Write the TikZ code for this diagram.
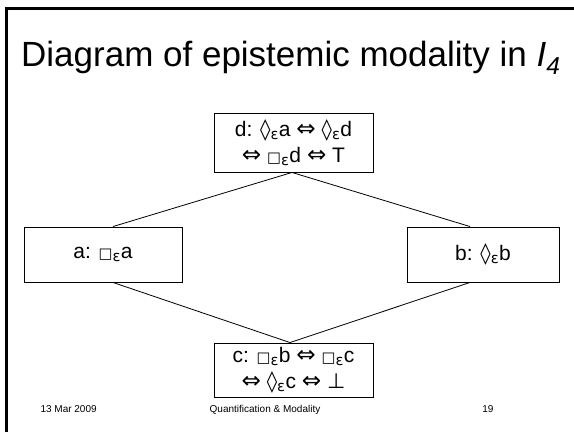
\documentclass[tikz,border=0pt]{standalone}
\usepackage{fontspec}
\setmainfont{Liberation Sans}
\newfontfamily\symfont{DejaVu Sans}
\newcommand{\mydia}{{\symfont\char"25CA}}
\newcommand{\mybx}{{\symfont\scalebox{0.7}{\char"25A1}}}
\newcommand{\myiff}{{\symfont\scalebox{1.1}{\char"21D4}}}
\newcommand{\mybot}{{\symfont\char"22A5}}
\newcommand{\myeps}{\textsubscript{\symfont ε}}
\begin{document}
\begin{tikzpicture}[x=1pt,y=-1pt,
  lbox/.style={draw=black,line width=0.9pt,inner sep=0pt,align=center,font=\fontsize{21}{26}\selectfont},
  conn/.style={draw=black,line width=0.8pt},
  foot/.style={font=\fontsize{10}{12}\selectfont,anchor=base}]
\useasboundingbox (0,0) rectangle (574,432);
\fill[white] (0,0) rectangle (574,432);
\draw[line width=3pt] (6.5,432) -- (6.5,8.5) -- (574,8.5);
\node[anchor=base west,font=\fontsize{35}{40}\selectfont,inner sep=0pt] (title) at (21,66) {Diagram of epistemic modality in \textit{I\textsubscript{4}}};
\node[lbox,minimum width=159pt,minimum height=59pt] (d) at (293.5,142.5) {d: \mydia\myeps a \myiff\ \mydia\myeps d\\ \myiff\ \mybx\myeps d \myiff\ T};
\node[lbox,minimum width=158pt,minimum height=55pt] (a) at (103,254.5) {a: \mybx\myeps a};
\node[lbox,minimum width=152pt,minimum height=55pt] (b) at (483,254.5) {b: \mydia\myeps b};
\node[lbox,minimum width=159pt,minimum height=54pt] (c) at (293.5,370) {c: \mybx\myeps b \myiff\ \mybx\myeps c\\ \myiff\ \mydia\myeps c \myiff\ \mybot};
\coordinate (dj) at ([xshift=-1.5pt]d.south);
\coordinate (cj) at ([xshift=-3.5pt]c.north);
\draw[conn] (dj) -- ([xshift=10pt]a.north);
\draw[conn] (dj) -- ([xshift=-13pt]b.north);
\draw[conn] ([xshift=10pt]a.south) -- (cj);
\draw[conn] ([xshift=-13pt]b.south) -- (cj);
\node[foot,anchor=base west] (date) at (37,412) {13 Mar 2009};
\node[foot] (mid) at (265,412) {Quantification \& Modality};
\node[foot,anchor=base east] (page) at (497,412) {19};
\end{tikzpicture}
\end{document}
